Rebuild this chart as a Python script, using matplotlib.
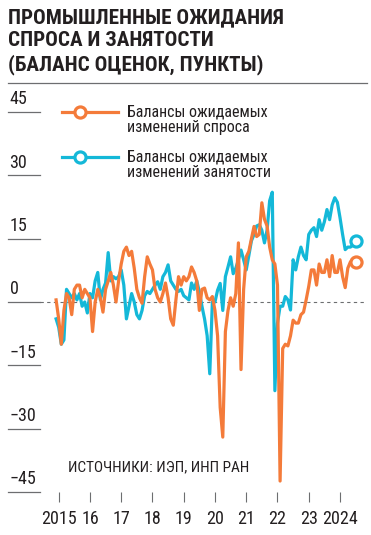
import numpy as np
import pandas as pd
import matplotlib.pyplot as plt

plt.rcParams['font.family'] = ['Roboto Condensed', 'Roboto', 'DejaVu Sans']

# monthly data, Dec 2014 - Jul 2024
months = pd.date_range('2014-12-01', '2024-07-01', freq='MS')

demand = [0.5, -4, -10, -2, 2, 1, -3, 3, 4, 4, 1, 3,
          2, 1, -7, 0, 3, 1, -2.4, 3, 5, 7, 4, 0,
          5, 9, 12, 13, 11, 12, 8, 3, 1, -0.3, 6, 10.7,
          9, 7.6, 3, 1, 0, 2, 4.5, 1, -4, -5.5, 0.5, 6,
          4, 6, 5, 6, 8.3, 7, 5, -2, 3, 3.3, 1, 0.5,
          1.3, -2, -8, -25, -32, -7, -2, 1, -1, 2, 14, -16,
          3, 10.7, 12, 15, 17.9, 15.5, 16, 23.5, 19.6, 18, 13, 10,
          9, 4, -42.4, -11, -10, -10.4, -8, -4.3, -5, -5, -3, -2.4,
          0.5, 3.7, 7.6, 7.6, 4, 9, 7, 7, 10, 6, 11, 7,
          7, 10, 6, 3.4, 8, 9.5, 9.5, 9.5]

employment = [-4, -6, -10, -9, 3, 2, 1, 2, 0.5, 2, -1, 0,
              -2.6, 2, 1, 5, 7, 0.5, 3, 4.5, 11.7, 5, 6, 5.5,
              6, 7.6, 4, -4, -1, 2, 0, -3, -4, -2, 1.5, 2.5,
              2, 3, 4, 4.8, 3, 6, 7, 8.8, 5, 4, 3, 2.5,
              3, 1.5, 1, 0.5, 4.5, 3, 5, 2.4, -1, -4, -8, -17,
              0, 0, 2.8, 4.4, -2, 6, 8.3, 10.7, 6.7, 8, 10, 12.3,
              10, 7.6, 11, 14.5, 16, 18, 18.3, 17, 14, 17, 24, 26,
              -21, -5, -1, -1, 1.3, 0.5, -1.9, 10, 7.6, 10.7, 13, 11,
              10, 16, 17, 17.6, 15.5, 19.5, 17, 19, 21.9, 19.5, 23, 24.7,
              23.6, 20, 16, 12.4, 13, 13, 13.5, 14.5]

years = list(range(2015, 2025))
year_labels = ['2015', '16', '17', '18', '19', '20', '21', '22', '23', '2024']
y_ticks = [45, 30, 15, 0, -15, -30, -45]

orange = '#f47b3a'
cyan = '#14b8d8'
ink = '#231f20'
grey = '#6d6e70'

x = months.year + (months.month - 1) / 12

fig = plt.figure(figsize=(3.71, 5.35), dpi=100)
ax = fig.add_axes([8 / 371, 1 - 492 / 535, 357 / 371, 380 / 535])
x0, x1 = 2013.378, 2024.80
ax.set_xlim(x0, x1)
ax.set_ylim(-45, 45)
for s in ax.spines.values():
    s.set_visible(False)

# y labels with short underline
xl = 2014.40
for v in y_ticks:
    ax.plot([x0, xl], [v, v], color=grey, lw=0.9, clip_on=False)
    lab = str(v).replace('-', '\u2212')
    ax.text(x0 + 0.05, v + 0.9, lab, fontsize=13, color=ink, va='bottom', ha='left')
ax.plot([xl, x1], [0, 0], color=grey, lw=0.8, ls=(0, (3, 3)))

ax.plot(x, employment, color=cyan, lw=2.3, solid_joinstyle='round', clip_on=False)
ax.plot(x, demand, color=orange, lw=2.3, solid_joinstyle='round', clip_on=False)
ax.plot(x[-1], employment[-1], 'o', ms=8, mfc='white', mec=cyan, mew=2.3, clip_on=False)
ax.plot(x[-1], demand[-1], 'o', ms=8, mfc='white', mec=orange, mew=2.3, clip_on=False)

ax.set_yticks([])
ax.set_xticks(years)
ax.set_xticklabels(year_labels)
ax.tick_params(axis='x', length=7, width=0.8, color=grey, pad=6, labelsize=13, labelcolor=ink)

# legend
for ly, col, txt in [(112, orange, 'Балансы ожидаемых\nизменений спроса'),
                     (157, cyan, 'Балансы ожидаемых\nизменений занятости')]:
    fy = 1 - ly / 535
    fig.add_artist(plt.Line2D([62 / 371, 118 / 371], [fy, fy], color=col, lw=2.3))
    fig.add_artist(plt.Line2D([80 / 371], [fy], marker='o', ms=8, mfc='white', mec=col, mew=2.3))
    fig.text(127 / 371, fy + 8 / 535, txt, fontsize=11.5, color=ink, va='top', ha='left', linespacing=1.05)

fig.text(68 / 371, 1 - 467 / 535, 'ИСТОЧНИКИ: ИЭП, ИНП РАН', fontsize=11, color=ink, va='center')

fig.text(8 / 371, 1 - 8 / 535, 'ПРОМЫШЛЕННЫЕ ОЖИДАНИЯ\nСПРОСА И ЗАНЯТОСТИ\n(БАЛАНС ОЦЕНОК, ПУНКТЫ)',
         fontsize=15.2, fontweight='bold', color=ink, va='top', ha='left', linespacing=1.28)
fig.add_artist(plt.Line2D([8 / 371, 367 / 371], [1 - 83 / 535] * 2, color=grey, lw=0.9))

fig.savefig('out.png', dpi=100)
